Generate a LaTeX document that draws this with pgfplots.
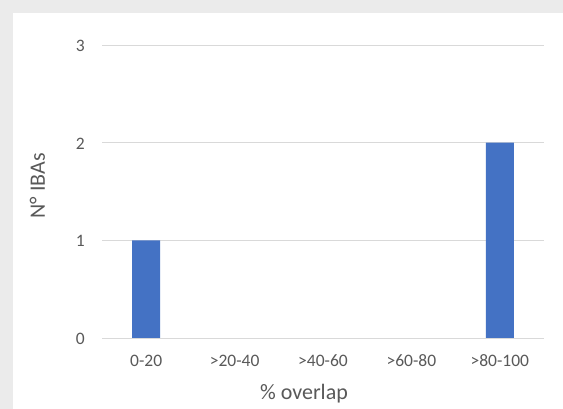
\documentclass[border=0pt]{standalone}
\usepackage{pgfplots}
\pgfplotsset{compat=1.18}
\usepackage{fontspec}
\setmainfont{Carlito}
\definecolor{bggray}{HTML}{EBEBEB}
\definecolor{txtgray}{HTML}{595959}
\definecolor{gridgray}{HTML}{D9D9D9}
\definecolor{barblue}{HTML}{4472C4}
\begin{document}
\begin{tikzpicture}
\fill[bggray] (0,0) rectangle (563bp,409bp);
\fill[white] (13bp,0) rectangle (563bp,396bp);
\begin{axis}[
  at={(102bp,71bp)}, anchor=south west,
  scale only axis, width=442bp, height=293bp,
  ybar, bar width=28bp,
  xmin=-0.5, xmax=4.5, ymin=0, ymax=3,
  xtick={0,1,2,3,4},
  xticklabels={0-20,>20-40,>40-60,>60-80,>80-100},
  ytick={0,1,2,3},
  ymajorgrids, grid style={gridgray, line width=0.9bp},
  axis line style={draw=none},
  major tick length=0pt,
  /pgf/number format/assume math mode=true,
  tick label style={font=\fontsize{17.5bp}{21bp}\selectfont, text=txtgray},
  xticklabel style={anchor=base, yshift=-28.5bp},
  yticklabel style={anchor=base east, inner sep=0pt, xshift=-17bp, yshift=-6.5bp},
  xlabel={\% overlap}, ylabel={N° IBAs},
  label style={font=\fontsize{22bp}{26bp}\selectfont, text=txtgray},
  xlabel style={at={(axis description cs:0.457,-0.2116)}, anchor=base},
  ylabel style={at={(axis description cs:-0.146,0.519)}, anchor=center, rotate=0},
]
\addplot[fill=barblue, draw=none] coordinates {(0,1) (1,0) (2,0) (3,0) (4,2)};
\end{axis}
\pgfresetboundingbox
\useasboundingbox (0,0) rectangle (563bp,409bp);
\end{tikzpicture}
\end{document}
